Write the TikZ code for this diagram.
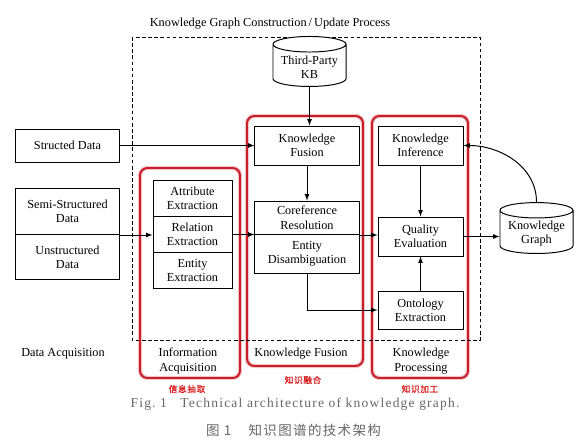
\documentclass[tikz,border=0pt]{standalone}
\usepackage{fontspec}
\setmainfont{Liberation Serif}
\newfontfamily\cjk[LetterSpace=10]{Noto Sans CJK SC}
\newfontfamily\cjkbold[FakeBold=1.5,LetterSpace=8]{Noto Sans CJK SC}
\newfontfamily\capfont[LetterSpace=9]{Liberation Serif}
\usetikzlibrary{shapes.geometric}
\definecolor{framered}{RGB}{200,30,40}
\definecolor{labelred}{RGB}{220,40,40}

\begin{document}
\begin{tikzpicture}[x=0.815pt,y=-0.815pt,line width=0.8pt,>=latex,
databox/.style={draw,rectangle,fill=white,inner sep=2pt,align=center,font=\fontsize{10}{11.5}\selectfont},
kbstore/.style={draw,cylinder,shape border rotate=90,aspect=0.25,fill=white,inner sep=2pt,align=center,font=\fontsize{10}{11.5}\selectfont,minimum width=59.5pt},
redframe/.style={draw=framered,line width=1.6pt,rounded corners=6pt,preaction={draw=framered!25,line width=3.6pt}},
tag/.style={align=center,font=\fontsize{10}{11.5}\selectfont},
redtag/.style={text=labelred,font=\cjkbold\fontsize{7}{8}\selectfont}]

\useasboundingbox (0,0) rectangle (579,442);

% groups
\draw[redframe] (140,168) rectangle (240,378);
\draw[redframe] (247,116) rectangle (363,366);
\draw[redframe] (372,116) rectangle (468,378);
\draw[dashed,line width=0.6pt,dash pattern=on 3pt off 2pt] (132,37) rectangle (480,340);

\node[tag] (title) at (270,24) {Knowledge Graph Construction\,/\,Update Process};

% data sources
\node[databox,minimum width=84pt,minimum height=26.9pt] (struct) at (67.5,145.5) {Structed Data};
\node[databox,minimum width=84pt,minimum height=37.5pt] (semi) at (67.5,211.5) {Semi-Structured\\Data};
\node[databox,minimum width=84pt,minimum height=36.7pt] (unstruct) at (67.5,257) {Unstructured\\Data};

% information acquisition
\node[databox,minimum width=64.4pt,minimum height=29.3pt] (attr) at (192.5,198.5) {Attribute\\Extraction};
\node[databox,minimum width=64.4pt,minimum height=29.3pt] (rel) at (192.5,234.5) {Relation\\Extraction};
\node[databox,minimum width=64.4pt,minimum height=29.3pt] (ent) at (192.5,270.5) {Entity\\Extraction};

% knowledge fusion
\node[kbstore,minimum height=40.75pt] (kb) at (309.5,67) {Third-Party\\KB};
\node[databox,minimum width=84.8pt,minimum height=31.8pt] (kf) at (307,145.5) {Knowledge\\Fusion};
\node[databox,minimum width=84.8pt,minimum height=27.3pt] (coref) at (307,217.75) {Coreference\\Resolution};
\node[databox,minimum width=84.8pt,minimum height=31.4pt] (disamb) at (307,253.75) {Entity\\Disambiguation};

% knowledge processing
\node[databox,minimum width=69.3pt,minimum height=31.8pt] (ki) at (420.5,145.5) {Knowledge\\Inference};
\node[databox,minimum width=69.3pt,minimum height=31.8pt] (quality) at (420.5,236.5) {Quality\\Evaluation};
\node[databox,minimum width=69.3pt,minimum height=31pt] (onto) at (420.5,310) {Ontology\\Extraction};

\node[kbstore,minimum height=40pt] (kg) at (536.5,233.5) {Knowledge\\Graph};

% connectors
\draw[->] (struct.east) -- (kf.west);
\draw[->] (semi.south east) -- (semi.south east -| rel.west);
\draw[->] (rel.east) -- (rel.east -| coref.west);
\draw[->] (kb.south) -- (kb.south |- kf.north);
\draw[->] (kf.south) -- (coref.north);
\draw[->] (coref.south east) -- (coref.south east -| quality.west);
\draw[->] (disamb.south) |- (onto.west);
\draw[->] (ki.south) -- (quality.north);
\draw[->] (onto.north) -- (quality.south);
\draw[->] (quality.east) -- (quality.east -| kg.west);
\draw[->] (kg.north) to[out=90,in=0] (ki.east);

% labels
\node[tag] (acqlabel) at (63,354) {Data Acquisition};
\node[tag] (infolabel) at (188,361) {Information\\Acquisition};
\node[tag] (fuselabel) at (301,354) {Knowledge Fusion};
\node[tag] (proclabel) at (421,361) {Knowledge\\Processing};
\node[redtag] (infocn) at (187,389) {信息抽取};
\node[redtag] (fusecn) at (303,380) {知识融合};
\node[redtag] (proccn) at (420,389) {知识加工};

% caption
\node[text=black!60,font=\capfont\fontsize{11}{12}\selectfont] (caption) at (295,404) {Fig.\ 1\quad Technical architecture of knowledge graph.};
\node[text=black!60,font=\cjk\fontsize{11}{12}\selectfont] (captioncn) at (293.5,430) {图 1\hspace{14pt}知识图谱的技术架构};

\end{tikzpicture}
\end{document}
